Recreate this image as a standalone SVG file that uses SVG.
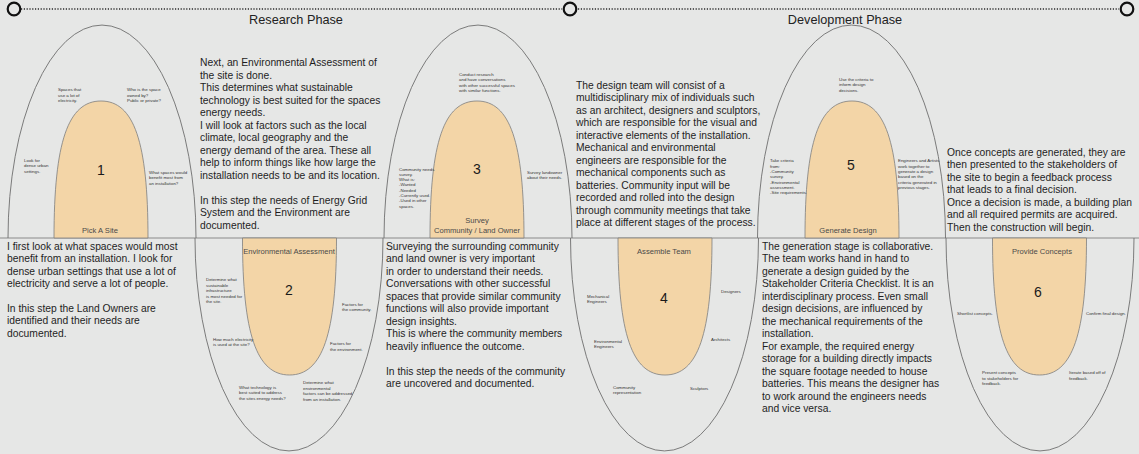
<svg xmlns="http://www.w3.org/2000/svg" xmlns:xlink="http://www.w3.org/1999/xlink" width="1139" height="454" viewBox="0 0 1139 454">
<style>
  .bg { fill: #e6e7e6; }
  .outer { fill: none; stroke: #6e6e6e; stroke-width: 0.9; }
  .inner { fill: #f3d5a7; stroke: #7d7d7d; stroke-width: 0.8; }
  .base { stroke: #8a8a8a; stroke-width: 1; fill: none; }
  .dots { stroke: #2a2a2a; stroke-width: 1.4; stroke-dasharray: 1.2 1.6; fill: none; }
  .ring { fill: #e6e7e6; stroke: #111; stroke-width: 2.2; }
  .head { font-family: "Liberation Sans", Arial, sans-serif; font-size: 12.7px; fill: #222; text-anchor: middle; }
  .body { font-family: "Liberation Sans", Arial, sans-serif; font-size: 10.3px; fill: #1e1e1e; }
  .s { font-family: "Liberation Sans", Arial, sans-serif; font-size: 4.4px; fill: #333; }
  .num { font-family: "Liberation Sans", Arial, sans-serif; font-size: 14px; fill: #1a1a1a; text-anchor: middle; }
  .lab { font-family: "Liberation Sans", Arial, sans-serif; font-size: 7.6px; fill: #4a4a4a; text-anchor: middle; }
</style>
<defs>
  <path id="outerArch" d="M -94 0 A 94 213 0 0 1 94 0"/>
  <path id="innerArch" d="M -47 0 C -47 -96 -33 -137 0 -137 C 33 -137 47 -96 47 0 Z"/>
</defs>
<rect class="bg" x="0" y="0" width="1139" height="454"/>

<g id="connectors">
  <line class="dots" x1="21" y1="9" x2="562" y2="9"/>
  <line class="dots" x1="578" y1="9" x2="1119" y2="9"/>
  <line class="base" x1="0" y1="238" x2="1139" y2="238"/>
</g>

<g id="timeline">
  <circle class="ring" cx="14" cy="9" r="6.3"/>
  <circle class="ring" cx="570" cy="9" r="6.3"/>
  <circle class="ring" cx="1127" cy="9" r="6.3"/>
  <text class="head" x="296" y="24">Research Phase</text>
  <text class="head" x="845" y="24">Development Phase</text>
</g>

<g id="node1">
  <use xlink:href="#outerArch" href="#outerArch" class="outer" transform="translate(102,238)"/>
  <use xlink:href="#innerArch" href="#innerArch" class="inner" transform="translate(101,238)"/>
  <text class="s" x="58" y="91">Spaces that</text>
  <text class="s" x="58" y="96.5">use a lot of</text>
  <text class="s" x="58" y="102">electricity.</text>
  <text class="s" x="127" y="91">Who is the space</text>
  <text class="s" x="127" y="96.5">owned by?</text>
  <text class="s" x="127" y="102">Public or private?</text>
  <text class="s" x="24" y="161.5">Look for</text>
  <text class="s" x="24" y="167">dense urban</text>
  <text class="s" x="24" y="172.5">settings.</text>
  <text class="s" x="149" y="173.5">What spaces would</text>
  <text class="s" x="149" y="179">benefit most from</text>
  <text class="s" x="149" y="184.5">an installation?</text>
  <text class="num" x="101" y="175">1</text>
  <text class="lab" x="100" y="233">Pick A Site</text>
</g>

<g id="node2">
  <use xlink:href="#outerArch" href="#outerArch" class="outer" transform="translate(289,238) scale(1,-1)"/>
  <use xlink:href="#innerArch" href="#innerArch" class="inner" transform="translate(289.5,238) scale(1,-1)"/>
  <text class="lab" x="289" y="253.7">Environmental Assessment</text>
  <text class="num" x="289" y="295">2</text>
  <text class="s" x="206" y="281">Determine what</text>
  <text class="s" x="206" y="286.5">sustainable</text>
  <text class="s" x="206" y="292">infrastructure</text>
  <text class="s" x="206" y="297.5">is most needed for</text>
  <text class="s" x="206" y="303">the site.</text>
  <text class="s" x="342" y="305.5">Factors for</text>
  <text class="s" x="342" y="311">the community.</text>
  <text class="s" x="213" y="340.5">How much electricity</text>
  <text class="s" x="213" y="346">is used at the site?</text>
  <text class="s" x="330" y="345">Factors for</text>
  <text class="s" x="330" y="350.5">the environment.</text>
  <text class="s" x="239" y="388.5">What technology is</text>
  <text class="s" x="239" y="394">best suited to address</text>
  <text class="s" x="239" y="399.5">the sites energy needs?</text>
  <text class="s" x="303" y="384">Determine what</text>
  <text class="s" x="303" y="389.5">environmental</text>
  <text class="s" x="303" y="395">factors can be addressed</text>
  <text class="s" x="303" y="400.5">from an installation.</text>
</g>

<g id="node3">
  <use xlink:href="#outerArch" href="#outerArch" class="outer" transform="translate(478,238)"/>
  <use xlink:href="#innerArch" href="#innerArch" class="inner" transform="translate(477,238)"/>
  <text class="s" x="459" y="75.5">Conduct research</text>
  <text class="s" x="459" y="81">and have conversations</text>
  <text class="s" x="459" y="86.5">with other successful spaces</text>
  <text class="s" x="459" y="92">with similar functions.</text>
  <text class="s" x="399" y="170.5">Community needs</text>
  <text class="s" x="399" y="175.8">survey.</text>
  <text class="s" x="399" y="181.1">What is:</text>
  <text class="s" x="399" y="186.4">-Wanted</text>
  <text class="s" x="399" y="191.7">-Needed</text>
  <text class="s" x="399" y="197">-Currently used.</text>
  <text class="s" x="399" y="202.3">-Used in other</text>
  <text class="s" x="399" y="207.6">spaces.</text>
  <text class="s" x="527" y="173.5">Survey landowner</text>
  <text class="s" x="527" y="179">about their needs.</text>
  <text class="num" x="477" y="174">3</text>
  <text class="lab" x="477" y="222.7">Survey</text>
  <text class="lab" x="477" y="232.7">Community / Land Owner</text>
</g>

<g id="node4">
  <use xlink:href="#outerArch" href="#outerArch" class="outer" transform="translate(664.5,238) scale(1,-1)"/>
  <use xlink:href="#innerArch" href="#innerArch" class="inner" transform="translate(665,238) scale(1,-1)"/>
  <text class="lab" x="664" y="253.7">Assemble Team</text>
  <text class="num" x="664" y="303">4</text>
  <text class="s" x="587" y="297.5">Mechanical</text>
  <text class="s" x="587" y="303">Engineers</text>
  <text class="s" x="721" y="292.5">Designers</text>
  <text class="s" x="594" y="342.5">Environmental</text>
  <text class="s" x="594" y="348">Engineers</text>
  <text class="s" x="711" y="340.5">Architects</text>
  <text class="s" x="613" y="388.5">Community</text>
  <text class="s" x="613" y="394">representation</text>
  <text class="s" x="690" y="389.5">Sculptors</text>
</g>

<g id="node5">
  <use xlink:href="#outerArch" href="#outerArch" class="outer" transform="translate(851.5,238)"/>
  <use xlink:href="#innerArch" href="#innerArch" class="inner" transform="translate(852,238)"/>
  <text class="s" x="839" y="80.5">Use the criteria to</text>
  <text class="s" x="839" y="86">inform design</text>
  <text class="s" x="839" y="91.5">decisions.</text>
  <text class="s" x="770" y="162.3">Take criteria</text>
  <text class="s" x="770" y="167.6">from:</text>
  <text class="s" x="770" y="172.9">-Community</text>
  <text class="s" x="770" y="178.2">survey.</text>
  <text class="s" x="770" y="183.5">-Environmental</text>
  <text class="s" x="770" y="188.8">assessment.</text>
  <text class="s" x="770" y="194.1">-Site requirements.</text>
  <text class="s" x="898" y="162.3">Engineers and Artists</text>
  <text class="s" x="898" y="167.6">work together to</text>
  <text class="s" x="898" y="172.9">generate a design</text>
  <text class="s" x="898" y="178.2">based on the</text>
  <text class="s" x="898" y="183.5">criteria generated in</text>
  <text class="s" x="898" y="188.8">previous stages.</text>
  <text class="num" x="851" y="170">5</text>
  <text class="lab" x="848" y="232.7">Generate Design</text>
</g>

<g id="node6">
  <use xlink:href="#outerArch" href="#outerArch" class="outer" transform="translate(1040,238) scale(1,-1)"/>
  <use xlink:href="#innerArch" href="#innerArch" class="inner" transform="translate(1039.5,238) scale(1,-1)"/>
  <text class="lab" x="1042" y="253.7">Provide Concepts</text>
  <text class="num" x="1038" y="297">6</text>
  <text class="s" x="957" y="314.5">Shortlist concepts.</text>
  <text class="s" x="1086" y="314.5">Confirm final design.</text>
  <text class="s" x="982" y="374">Present concepts</text>
  <text class="s" x="982" y="379.5">to stakeholders for</text>
  <text class="s" x="982" y="385">feedback.</text>
  <text class="s" x="1069" y="374">Iterate based off of</text>
  <text class="s" x="1069" y="379.5">feedback.</text>
</g>

<g id="text-environmental">
  <text class="body" x="200" y="66">Next, an Environmental Assessment of</text>
  <text class="body" x="200" y="78.5">the site is done.</text>
  <text class="body" x="200" y="91">This determines what sustainable</text>
  <text class="body" x="200" y="103.5">technology is best suited for the spaces</text>
  <text class="body" x="200" y="116">energy needs.</text>
  <text class="body" x="200" y="128.5">I will look at factors such as the local</text>
  <text class="body" x="200" y="141">climate, local geography and the</text>
  <text class="body" x="200" y="153.5">energy demand of the area. These all</text>
  <text class="body" x="200" y="166">help to inform things like how large the</text>
  <text class="body" x="200" y="178.5">installation needs to be and its location.</text>
  <text class="body" x="200" y="203.5">In this step the needs of Energy Grid</text>
  <text class="body" x="200" y="216">System and the Environment are</text>
  <text class="body" x="200" y="228.5">documented.</text>
</g>

<g id="text-team">
  <text class="body" x="576" y="88.5">The design team will consist of a</text>
  <text class="body" x="576" y="101">multidisciplinary mix of individuals such</text>
  <text class="body" x="576" y="113.5">as an architect, designers and sculptors,</text>
  <text class="body" x="576" y="126">which are responsible for the visual and</text>
  <text class="body" x="576" y="138.5">interactive elements of the installation.</text>
  <text class="body" x="576" y="151">Mechanical and environmental</text>
  <text class="body" x="576" y="163.5">engineers are responsible for the</text>
  <text class="body" x="576" y="176">mechanical components such as</text>
  <text class="body" x="576" y="188.5">batteries. Community input will be</text>
  <text class="body" x="576" y="201">recorded and rolled into the design</text>
  <text class="body" x="576" y="213.5">through community meetings that take</text>
  <text class="body" x="576" y="226">place at different stages of the process.</text>
</g>

<g id="text-concepts">
  <text class="body" x="947" y="155.5">Once concepts are generated, they are</text>
  <text class="body" x="947" y="168">then presented to the stakeholders of</text>
  <text class="body" x="947" y="180.5">the site to begin a feedback process</text>
  <text class="body" x="947" y="193">that leads to a final decision.</text>
  <text class="body" x="947" y="205.5">Once a decision is made, a building plan</text>
  <text class="body" x="947" y="218">and all required permits are acquired.</text>
  <text class="body" x="947" y="230.5">Then the construction will begin.</text>
</g>

<g id="text-site">
  <text class="body" x="7" y="250">I first look at what spaces would most</text>
  <text class="body" x="7" y="262.4">benefit from an installation. I look for</text>
  <text class="body" x="7" y="274.8">dense urban settings that use a lot of</text>
  <text class="body" x="7" y="287.2">electricity and serve a lot of people.</text>
  <text class="body" x="7" y="312">In this step the Land Owners are</text>
  <text class="body" x="7" y="324.4">identified and their needs are</text>
  <text class="body" x="7" y="336.8">documented.</text>
</g>

<g id="text-survey">
  <text class="body" x="386" y="249.5">Surveying the surrounding community</text>
  <text class="body" x="386" y="262">and land owner is very important</text>
  <text class="body" x="386" y="274.5">in order to understand their needs.</text>
  <text class="body" x="386" y="287">Conversations with other successful</text>
  <text class="body" x="386" y="299.5">spaces that provide similar community</text>
  <text class="body" x="386" y="312">functions will also provide important</text>
  <text class="body" x="386" y="324.5">design insights.</text>
  <text class="body" x="386" y="337">This is where the community members</text>
  <text class="body" x="386" y="349.5">heavily influence the outcome.</text>
  <text class="body" x="386" y="374.5">In this step the needs of the community</text>
  <text class="body" x="386" y="387">are uncovered and documented.</text>
</g>

<g id="text-generate">
  <text class="body" x="762" y="249.5">The generation stage is collaborative.</text>
  <text class="body" x="762" y="262">The team works hand in hand to</text>
  <text class="body" x="762" y="274.5">generate a design guided by the</text>
  <text class="body" x="762" y="287">Stakeholder Criteria Checklist. It is an</text>
  <text class="body" x="762" y="299.5">interdisciplinary process. Even small</text>
  <text class="body" x="762" y="312">design decisions, are influenced by</text>
  <text class="body" x="762" y="324.5">the mechanical requirements of the</text>
  <text class="body" x="762" y="337">installation.</text>
  <text class="body" x="762" y="349.5">For example, the required energy</text>
  <text class="body" x="762" y="362">storage for a building directly impacts</text>
  <text class="body" x="762" y="374.5">the square footage needed to house</text>
  <text class="body" x="762" y="387">batteries. This means the designer has</text>
  <text class="body" x="762" y="399.5">to work around the engineers needs</text>
  <text class="body" x="762" y="412">and vice versa.</text>
</g>
</svg>
